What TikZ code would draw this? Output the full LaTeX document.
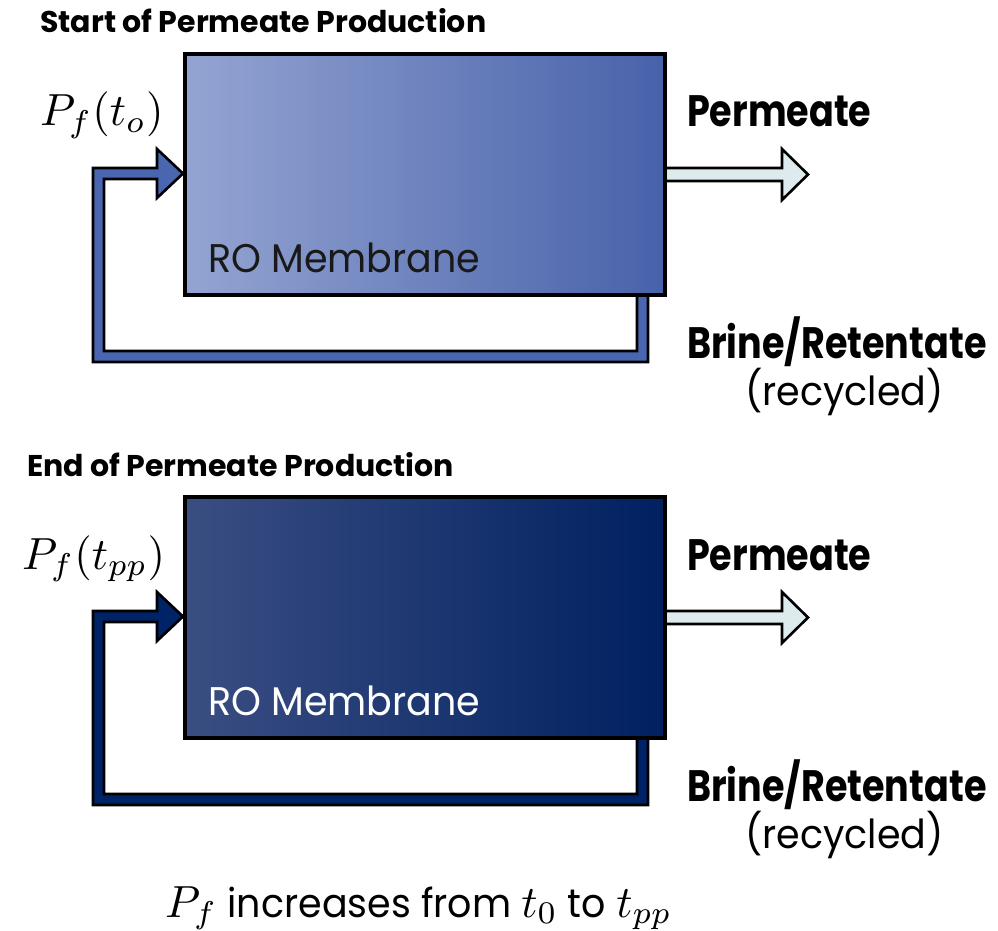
\documentclass[tikz,border=0pt]{standalone}
\usepackage{fontspec}
\usepackage{graphicx}
\setmainfont{Poppins}
\newfontfamily\narrowfont{Poppins}[FakeStretch=0.83]
\newfontfamily\regfont{Poppins}[FakeStretch=0.95]
\newcommand{\mth}[1]{\scalebox{4.5}{\normalsize$#1$}}
\definecolor{boxAL}{RGB}{148,164,210}
\definecolor{boxAR}{RGB}{72,98,170}
\definecolor{loopA}{RGB}{74,102,176}
\definecolor{boxBL}{RGB}{58,78,130}
\definecolor{boxBR}{RGB}{0,32,96}
\definecolor{loopB}{RGB}{0,34,102}
\definecolor{permfill}{RGB}{221,235,239}
\tikzset{
  membox/.style={draw=black, line width=4pt, minimum width=480pt, minimum height=241pt, inner sep=0pt},
  blockarrow/.style={draw=black, line width=2.6pt, line join=miter},
  titletext/.style={anchor=base west, inner sep=0pt, font=\bfseries\fontsize{30}{35}\selectfont},
  bigbold/.style={anchor=base west, inner sep=0pt, font=\narrowfont\bfseries\fontsize{44}{50}\selectfont},
  regtext/.style={anchor=base west, inner sep=0pt, font=\regfont\fontsize{40}{46}\selectfont},
  mathtext/.style={anchor=base west, inner sep=0pt},
}
\newcommand{\rpanel}[8]{%
  % #1 title, #2 math label, #3 left colour, #4 right colour, #5 loop colour, #6 RO text colour, #7 prefix, #8 title x
  \draw[blockarrow, fill=permfill] (660,168) -- (782,168) -- (782,149) -- (808,174.5) -- (782,200) -- (782,181) -- (660,181) -- cycle;
  \draw[blockarrow, fill=#5] (648,290) -- (648,362) -- (93,362) -- (93,168) -- (157,168) -- (157,149) -- (183,173.5) -- (157,198) -- (157,179) -- (104,179) -- (104,351) -- (637,351) -- (637,290) -- cycle;
  \node[membox, left color=#3, right color=#4] (#7box) at (425,174.5) {};
  \node[titletext] (#7title) at (#8,33) {#1};
  \node[mathtext] (#7feed) at (40,126) {#2};
  \node[bigbold] (#7perm) at (687,127) {Permeate};
  \node[bigbold] (#7brine) at (687,358) {Brine/Retentate};
  \node[regtext] (#7rec) at (745,405) {(recycled)};
  \node[regtext, text=#6] (#7ro) at (208,272) {RO Membrane};
}
\begin{document}
\begin{tikzpicture}[x=1pt, y=-1pt]
\useasboundingbox (0,0) rectangle (998,931);
\rpanel{Start of Permeate Production}{\mth{P_f(t_o)}}{boxAL}{boxAR}{loopA}{black!90}{a}{40}
\begin{scope}[shift={(0,443)}]
\rpanel{End of Permeate Production}{\hspace*{-18pt}\mth{P_f(t_{pp})}}{boxBL}{boxBR}{loopB}{white}{b}{27}
\end{scope}
\node[regtext] (caption) at (165,917) {\mth{P_f} increases from \mth{t_0} to \mth{t_{pp}}};
\end{tikzpicture}
\end{document}
